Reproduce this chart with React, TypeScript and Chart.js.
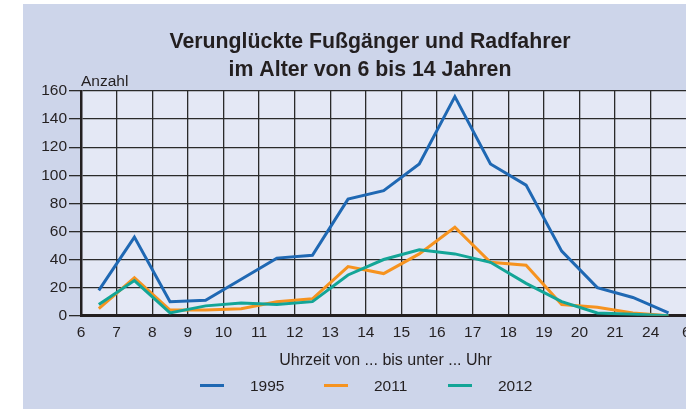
import React, { useEffect, useRef } from "react";
import { Chart, registerables } from "chart.js";

Chart.register(...registerables);

// ---- data ----
const xTickLabels = ["6", "7", "8", "9", "10", "11", "12", "13", "14", "15", "16", "17", "18", "19", "20", "21", "24", "6"];
const seriesNames = ["1995", "2011", "2012"];
const series1995 = [18, 56, 10, 11, 26, 41, 43, 83, 89, 108, 156, 108, 93, 46, 20, 13, 2];
const series2011 = [5, 27, 4, 4, 5, 10, 12, 35, 30, 44, 63, 38, 36, 8, 6, 2, 0];
const series2012 = [8, 25, 2, 7, 9, 8, 10, 29, 40, 47, 44, 38, 23, 10, 2, 1, 0];
const yTicks = [0, 20, 40, 60, 80, 100, 120, 140, 160];

const titleLines = ["Verunglückte Fußgänger und Radfahrer", "im Alter von 6 bis 14 Jahren"];
const yAxisTitle = "Anzahl";
const xAxisTitle = "Uhrzeit von ... bis unter ... Uhr";

// ---- styles ----
const seriesColors = ["#1f68b3", "#f6931f", "#13a597"];
const seriesOrder = [0, 2, 1];
const FONT = "'Liberation Sans', Arial, Helvetica, sans-serif";
const TEXT = "#231f20";
const GRID = "#2a2a2a";
const W = 720;
const H = 409;

export default function App() {
  const ref = useRef<HTMLCanvasElement>(null);

  useEffect(() => {
    const canvas = ref.current!;
    const allSeries = [series1995, series2011, series2012];

    const decor = {
      id: "decor",
      beforeDraw(chart: any) {
        const { ctx, chartArea: a } = chart;
        ctx.save();
        ctx.fillStyle = "#ffffff";
        ctx.fillRect(0, 0, W, H);
        ctx.fillStyle = "#cdd5ea";
        ctx.fillRect(23, 4, W - 23, H - 4);
        ctx.fillStyle = "#e4e8f5";
        ctx.fillRect(a.left, a.top, a.right - a.left, a.bottom - a.top);
        ctx.restore();
      },
      afterDraw(chart: any) {
        const { ctx } = chart;
        ctx.save();
        ctx.fillStyle = TEXT;
        ctx.textBaseline = "alphabetic";
        ctx.textAlign = "center";
        ctx.font = `bold 21.3px ${FONT}`;
        ctx.fillText(titleLines[0], 370, 48);
        ctx.fillText(titleLines[1], 370, 76);

        ctx.font = `15.5px ${FONT}`;
        ctx.textAlign = "left";
        ctx.fillText(yAxisTitle, 81, 86);
        ctx.font = `16px ${FONT}`;
        ctx.textAlign = "center";
        ctx.fillText(xAxisTitle, 385.5, 365);

        ctx.font = `15.5px ${FONT}`;
        chart.data.datasets.forEach((ds: any, i: number) => {
          const x0 = 200 + i * 124;
          ctx.strokeStyle = ds.borderColor;
          ctx.lineWidth = 3;
          ctx.beginPath();
          ctx.moveTo(x0, 385.5);
          ctx.lineTo(x0 + 24, 385.5);
          ctx.stroke();
          ctx.textAlign = "left";
          ctx.fillStyle = TEXT;
          ctx.fillText(ds.label, x0 + 50, 391);
        });
        ctx.restore();
      },
    };

    const chart = new Chart(canvas, {
      type: "line",
      data: {
        datasets: seriesNames.map((name, s) => ({
          label: name,
          data: allSeries[s].map((v, i) => ({ x: i + 0.5, y: v })),
          borderColor: seriesColors[s],
          backgroundColor: seriesColors[s],
          borderWidth: 3,
          pointRadius: 0,
          tension: 0,
          fill: false,
          order: seriesOrder[s],
        })),
      },
      options: {
        responsive: false,
        animation: false,
        devicePixelRatio: 1,
        layout: { padding: { left: 0, top: 91, right: W - 686.3, bottom: H - 315.7 - 30 } },
        plugins: {
          legend: { display: false },
          tooltip: { enabled: false },
          title: { display: false },
        },
        scales: {
          x: {
            type: "linear",
            min: 0,
            max: xTickLabels.length - 1,
            afterBuildTicks: (s: any) => {
              s.ticks = xTickLabels.map((_, i) => ({ value: i }));
            },
            afterFit: (s: any) => {
              s.height = 30;
            },
            ticks: {
              autoSkip: false,
              maxRotation: 0,
              padding: 8,
              color: TEXT,
              font: { family: FONT, size: 15.5 },
              callback: (v: any) => xTickLabels[v],
            },
            grid: { color: GRID, lineWidth: 1.3, drawTicks: false },
            border: { color: TEXT, width: 3 },
          },
          y: {
            type: "linear",
            min: yTicks[0],
            max: yTicks[yTicks.length - 1],
            afterBuildTicks: (s: any) => {
              s.ticks = yTicks.map((v) => ({ value: v }));
            },
            afterFit: (s: any) => {
              s.width = 81;
            },
            ticks: {
              padding: 2,
              color: TEXT,
              font: { family: FONT, size: 15.5 },
            },
            grid: { color: GRID, lineWidth: 1.3, tickLength: 12 },
            border: { color: TEXT, width: 2.5 },
          },
        },
      },
      plugins: [decor],
    } as any);

    return () => chart.destroy();
  }, []);

  return (
    <div style={{ position: "absolute", left: 0, top: 0, width: 686, height: 409, overflow: "hidden", background: "#fff" }}>
      <canvas ref={ref} width={W} height={H} style={{ display: "block", width: W, height: H }} />
    </div>
  );
}
